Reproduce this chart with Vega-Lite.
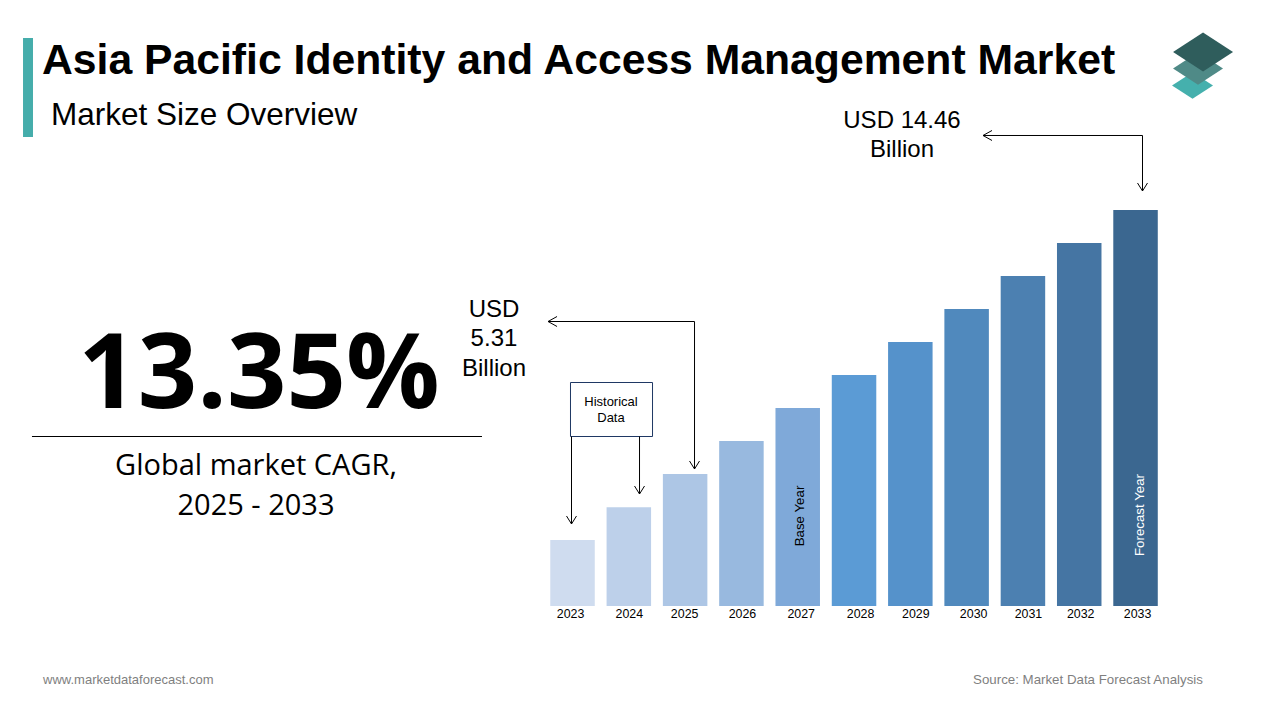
{
  "$schema": "https://vega.github.io/schema/vega-lite/v6.json",
  "autosize": {"type": "fit", "contains": "padding"},
  "padding": 0,
  "width": 1280,
  "height": 720,
  "background": "#ffffff",
  "config": {"view": {"stroke": null}, "axisY": {"disable": true}, "text": {"font": "Liberation Sans", "color": "#000000"}},
  "data": {"values": [{}]},
  "layer": [
    {
      "data": {"values": [
        {"year": 2023, "usd": 2.41},
        {"year": 2024, "usd": 3.61},
        {"year": 2025, "usd": 4.82},
        {"year": 2026, "usd": 6.02},
        {"year": 2027, "usd": 7.23},
        {"year": 2028, "usd": 8.43},
        {"year": 2029, "usd": 9.64},
        {"year": 2030, "usd": 10.84},
        {"year": 2031, "usd": 12.05},
        {"year": 2032, "usd": 13.25},
        {"year": 2033, "usd": 14.46}
      ]},
      "mark": {"type": "bar", "size": 44.5},
      "encoding": {
        "x": {
          "field": "year",
          "type": "quantitative",
          "scale": {"domain": [2012.831, 2035.566], "nice": false, "zero": false, "padding": 0},
          "axis": {
            "title": null,
            "values": [2023, 2024, 2025, 2026, 2027, 2028, 2029, 2030, 2031, 2032, 2033],
            "format": "d",
            "grid": false,
            "domain": false,
            "ticks": false,
            "offset": -114,
            "labelPadding": 1,
            "labelFont": "Liberation Sans",
            "labelFontSize": 12.4,
            "labelColor": "#000000",
            "labelFlush": false,
            "labelOverlap": false,
            "labelOffset": {"expr": "[-2.5,0,-1,0.5,3,6,5,6.5,5,1,1.5][datum.value-2023]"}
          }
        },
        "y": {
          "field": "usd",
          "type": "quantitative",
          "title": null,
          "scale": {"domain": [-4.162, 22.125], "nice": false, "zero": false}
        },
        "color": {
          "field": "year",
          "type": "ordinal",
          "legend": null,
          "scale": {
            "domain": [2023, 2024, 2025, 2026, 2027, 2028, 2029, 2030, 2031, 2032, 2033],
            "range": ["#cfdcef", "#bdd0ea", "#adc6e5", "#98b9df", "#7fa9d9", "#5b9bd5", "#5592cb", "#5089bd", "#4c80b1", "#4575a3", "#3b6790"]
          }
        }
      }
    },
    {
      "mark": {"type": "rect", "color": "#45adab"},
      "encoding": {"x": {"datum": 2013.240}, "x2": {"datum": 2013.417}, "y": {"datum": 20.738}, "y2": {"datum": 17.123}}
    },
    {
      "mark": {"type": "text", "text": "Asia Pacific Identity and Access Management Market", "align": "left", "baseline": "middle", "fontSize": 42.7, "fontWeight": "bold"},
      "encoding": {"x": {"datum": 2013.577}, "y": {"datum": 19.880}}
    },
    {
      "mark": {"type": "text", "text": "Market Size Overview", "align": "left", "baseline": "middle", "fontSize": 31.5},
      "encoding": {"x": {"datum": 2013.737}, "y": {"datum": 17.890}}
    },
    {
      "mark": {"type": "point", "shape": "M0,-0.65L1,0L0,0.65L-1,0Z", "size": 1681, "filled": true, "opacity": 1, "color": "#45b0ad"},
      "encoding": {"x": {"datum": 2034.012}, "y": {"datum": 19.003}}
    },
    {
      "mark": {"type": "point", "shape": "M0,-0.65L1,0L0,0.65L-1,0Z", "size": 2500, "filled": true, "opacity": 1, "color": "#4f8a87"},
      "encoding": {"x": {"datum": 2034.110}, "y": {"datum": 19.624}}
    },
    {
      "mark": {"type": "point", "shape": "M0,-0.65L1,0L0,0.65L-1,0Z", "size": 3600, "filled": true, "opacity": 1, "color": "#2f5d5c"},
      "encoding": {"x": {"datum": 2034.199}, "y": {"datum": 20.227}}
    },
    {
      "mark": {"type": "text", "text": "13.35%", "align": "center", "baseline": "middle", "fontSize": 104, "fontWeight": "bold", "font": "Open Sans"},
      "encoding": {"x": {"datum": 2017.431}, "y": {"datum": 8.343}}
    },
    {
      "mark": {"type": "rule", "color": "#000000", "strokeWidth": 1},
      "encoding": {"x": {"datum": 2013.399}, "x2": {"datum": 2021.392}, "y": {"datum": 6.188}}
    },
    {
      "mark": {"type": "text", "text": "Global market CAGR,", "align": "center", "baseline": "middle", "fontSize": 29, "font": "Open Sans"},
      "encoding": {"x": {"datum": 2017.378}, "y": {"datum": 5.111}}
    },
    {
      "mark": {"type": "text", "text": "2025 - 2033", "align": "center", "baseline": "middle", "fontSize": 29, "font": "Open Sans"},
      "encoding": {"x": {"datum": 2017.378}, "y": {"datum": 3.633}}
    },
    {
      "mark": {"type": "text", "text": "USD 14.46", "align": "center", "baseline": "middle", "fontSize": 24},
      "encoding": {"x": {"datum": 2028.852}, "y": {"datum": 17.725}}
    },
    {
      "mark": {"type": "text", "text": "Billion", "align": "center", "baseline": "middle", "fontSize": 24},
      "encoding": {"x": {"datum": 2028.852}, "y": {"datum": 16.666}}
    },
    {
      "mark": {"type": "rule", "color": "#000000", "strokeWidth": 1},
      "encoding": {"x": {"datum": 2030.291}, "x2": {"datum": 2033.124}, "y": {"datum": 17.178}}
    },
    {
      "mark": {"type": "rule", "color": "#000000", "strokeWidth": 1},
      "encoding": {"x": {"datum": 2033.124}, "y": {"datum": 17.178}, "y2": {"datum": 15.152}}
    },
    {
      "mark": {"type": "point", "shape": "M1.8,-1L0,0L1.8,1", "size": 100, "filled": false, "opacity": 1, "color": "#000000", "strokeWidth": 1},
      "encoding": {"x": {"datum": 2030.291}, "y": {"datum": 17.178}}
    },
    {
      "mark": {"type": "point", "shape": "M-1,-1.6L0,0L1,-1.6", "size": 100, "filled": false, "opacity": 1, "color": "#000000", "strokeWidth": 1},
      "encoding": {"x": {"datum": 2033.124}, "y": {"datum": 15.152}}
    },
    {
      "mark": {"type": "text", "text": "USD", "align": "center", "baseline": "middle", "fontSize": 24},
      "encoding": {"x": {"datum": 2021.605}, "y": {"datum": 10.825}}
    },
    {
      "mark": {"type": "text", "text": "5.31", "align": "center", "baseline": "middle", "fontSize": 24},
      "encoding": {"x": {"datum": 2021.605}, "y": {"datum": 9.730}}
    },
    {
      "mark": {"type": "text", "text": "Billion", "align": "center", "baseline": "middle", "fontSize": 24},
      "encoding": {"x": {"datum": 2021.605}, "y": {"datum": 8.671}}
    },
    {
      "mark": {"type": "rule", "color": "#000000", "strokeWidth": 1},
      "encoding": {"x": {"datum": 2022.565}, "x2": {"datum": 2025.167}, "y": {"datum": 10.387}}
    },
    {
      "mark": {"type": "rule", "color": "#000000", "strokeWidth": 1},
      "encoding": {"x": {"datum": 2025.167}, "y": {"datum": 10.387}, "y2": {"datum": 5.002}}
    },
    {
      "mark": {"type": "point", "shape": "M1.8,-1L0,0L1.8,1", "size": 100, "filled": false, "opacity": 1, "color": "#000000", "strokeWidth": 1},
      "encoding": {"x": {"datum": 2022.565}, "y": {"datum": 10.387}}
    },
    {
      "mark": {"type": "point", "shape": "M-1,-1.6L0,0L1,-1.6", "size": 100, "filled": false, "opacity": 1, "color": "#000000", "strokeWidth": 1},
      "encoding": {"x": {"datum": 2025.167}, "y": {"datum": 5.002}}
    },
    {
      "mark": {"type": "rect", "fill": "#ffffff", "stroke": "#1f3864", "strokeWidth": 1},
      "encoding": {"x": {"datum": 2022.964}, "x2": {"datum": 2024.421}, "y": {"datum": 8.160}, "y2": {"datum": 6.188}}
    },
    {
      "mark": {"type": "text", "text": "Historical", "align": "center", "baseline": "middle", "fontSize": 13},
      "encoding": {"x": {"datum": 2023.683}, "y": {"datum": 7.448}}
    },
    {
      "mark": {"type": "text", "text": "Data", "align": "center", "baseline": "middle", "fontSize": 13},
      "encoding": {"x": {"datum": 2023.683}, "y": {"datum": 6.864}}
    },
    {
      "mark": {"type": "rule", "color": "#000000", "strokeWidth": 1},
      "encoding": {"x": {"datum": 2022.982}, "y": {"datum": 6.188}, "y2": {"datum": 2.994}}
    },
    {
      "mark": {"type": "point", "shape": "M-1,-1.6L0,0L1,-1.6", "size": 100, "filled": false, "opacity": 1, "color": "#000000", "strokeWidth": 1},
      "encoding": {"x": {"datum": 2022.982}, "y": {"datum": 2.994}}
    },
    {
      "mark": {"type": "rule", "color": "#000000", "strokeWidth": 1},
      "encoding": {"x": {"datum": 2024.190}, "y": {"datum": 6.188}, "y2": {"datum": 4.089}}
    },
    {
      "mark": {"type": "point", "shape": "M-1,-1.6L0,0L1,-1.6", "size": 100, "filled": false, "opacity": 1, "color": "#000000", "strokeWidth": 1},
      "encoding": {"x": {"datum": 2024.190}, "y": {"datum": 4.089}}
    },
    {
      "mark": {"type": "text", "text": "Base Year", "align": "center", "baseline": "middle", "angle": 270, "fontSize": 13.3},
      "encoding": {"x": {"datum": 2027.040}, "y": {"datum": 3.286}}
    },
    {
      "mark": {"type": "text", "text": "Forecast Year", "align": "center", "baseline": "middle", "angle": 270, "fontSize": 13.3, "color": "#ffffff"},
      "encoding": {"x": {"datum": 2033.079}, "y": {"datum": 3.322}}
    },
    {
      "mark": {"type": "text", "text": "www.marketdataforecast.com", "align": "left", "baseline": "middle", "fontSize": 13, "color": "#7f7f7f"},
      "encoding": {"x": {"datum": 2013.595}, "y": {"datum": -2.702}}
    },
    {
      "mark": {"type": "text", "text": "Source: Market Data Forecast Analysis", "align": "left", "baseline": "middle", "fontSize": 13.3, "color": "#7f7f7f"},
      "encoding": {"x": {"datum": 2030.114}, "y": {"datum": -2.702}}
    }
  ]
}
